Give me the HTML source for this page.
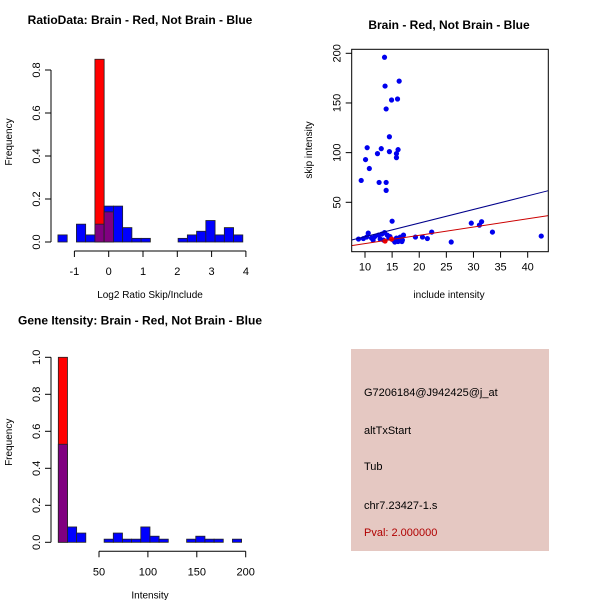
<!DOCTYPE html>
<html><head><meta charset="utf-8"><style>
body{margin:0;background:#fff}
svg{display:block;font-family:"Liberation Sans",sans-serif}
</style></head><body>
<svg id="c" width="600" height="600" viewBox="0 0 600 600">
<rect x="351" y="349" width="198" height="202" fill="#e5c8c2"/>
<g font-size="11" fill="#000">
<text x="364" y="396">G7206184@J942425@j_at</text>
<text x="364" y="434">altTxStart</text>
<text x="364" y="470">Tub</text>
<text x="364" y="509">chr7.23427-1.s</text>
<text x="364" y="536" fill="#b00000">Pval: 2.000000</text>
</g>
</svg>
<script>
// Panel 1: ratio histogram
const ratioStart = -1.48, ratioWidth = 0.2695;
const ratioBlue = [0.033,0,0.083,0.033,0.083,0.167,0.167,0.067,0.017,0.017,0,0,0,0.017,0.033,0.05,0.1,0.033,0.067,0.033];
const ratioRed  = [0,0,0,0,0.85,0.14,0,0,0,0,0,0,0,0,0,0,0,0,0,0];
const ratioXTicks = [-1,0,1,2,3,4];
const ratioYTicks = [0,0.2,0.4,0.6,0.8];
// Panel 3: intensity histogram
const intStart = 8.4, intWidth = 9.37;
const intBlue = [0.53,0.083,0.05,0,0,0.017,0.05,0.017,0.017,0.083,0.033,0.017,0,0,0.017,0.033,0.017,0.017,0,0.017];
const intRed  = [1.0,0,0,0,0,0,0,0,0,0,0,0,0,0,0,0,0,0,0,0];
const intXTicks = [50,100,150,200];
const intYTicks = [0,0.2,0.4,0.6,0.8,1.0];
// Panel 2: scatter
const scatX = [13.6,13.7,16.3,14.9,16.0,13.9,14.5,10.4,13.0,10.1,14.5,12.3,16.1,15.8,15.8,10.8,9.3,12.6,13.9,13.9,15.0,29.6,31.1,31.5,33.5,42.5,25.9,19.3,20.6,21.5,22.3,8.8,9.7,10.6,10.3,11.2,11.8,12.5,13.1,13.6,14.1,14.6,15.2,15.5,16.1,16.5,16.9,17.1,13.4,12.8,11.5,14.4,15.8,16.8];
const scatY = [196,167,172,153,154,144,116,105,104,93,101,99,103,99,95,84,72,70,70,62,31,29,27,30.5,20,16,10,15,15,13.5,20,13,13.5,19,15,14,15.5,17,18,19.5,17,15.5,12,10,10.5,15,12,17,12,13,12,14,14,10.5];
const redX = [13.7,14.9];
const redY = [11,13];
const blueLine = [1.67,1.37];
const redLine = [0.13,0.832];
const scatXTicks = [10,15,20,25,30,35,40];
const scatYTicks = [50,100,150,200];

const NS="http://www.w3.org/2000/svg", svg=document.getElementById('c');
function mk(t,a,p){const e=document.createElementNS(NS,t);for(const k in a)e.setAttribute(k,a[k]);(p||svg).appendChild(e);return e;}
function txt(x,y,s,a){const e=mk('text',Object.assign({x:x,y:y},a||{}));e.textContent=s;return e;}

function hist(o){
  const g=mk('g',{});
  
  
  const sx=v=>o.x0+(v-o.xv0)*o.xs, sy=v=>o.y0-v*o.ys;
  o.blue.forEach((b,i)=>{
    const r=o.red[i], a=sx(o.start+i*o.w), w=sx(o.start+(i+1)*o.w)-a;
    const hi=Math.max(b,r), lo=Math.min(b,r);
    if(hi>0){const e=mk('rect',{x:a,y:sy(hi),width:w,height:sy(0)-sy(hi),fill:r>b?'#ff0000':'#0000ff',stroke:'#222','stroke-width':0.8},g);
      
      }
    if(lo>0){const e=mk('rect',{x:a,y:sy(lo),width:w,height:sy(0)-sy(lo),fill:'#800080',stroke:'#222','stroke-width':0.8},g);
      
      }
  });
  const ya=mk('g',{stroke:'#000'},g);
  
  
  const yt=o.yt;
  mk('line',{x1:51,x2:51,y1:sy(yt[0]),y2:sy(yt[yt.length-1])},ya);
  yt.forEach(v=>{mk('line',{x1:45,x2:51,y1:sy(v),y2:sy(v)},ya);
    txt(40,sy(v),String(v===1?'1.0':v===0?'0.0':v),{transform:`rotate(-90 40 ${sy(v)})`,'text-anchor':'middle','font-size':11,stroke:'none'});});
  const xa=mk('g',{stroke:'#000'},g);
  
  
  const xt=o.xt, ay=o.y0+9;
  mk('line',{x1:sx(xt[0]),x2:sx(xt[xt.length-1]),y1:ay,y2:ay},xa);
  xt.forEach(v=>{mk('line',{x1:sx(v),x2:sx(v),y1:ay,y2:ay+6},xa);
    txt(sx(v),ay+24,String(v),{'text-anchor':'middle','font-size':11,stroke:'none'});});
  const t=txt(140,o.y0-218,o.title,{'text-anchor':'middle','font-size':12,'font-weight':'bold'});
  
  
  const xl=txt(o.xlx,ay+47,o.xlab,{'text-anchor':'middle','font-size':10});
  
  
  const yl=txt(12,o.y0-100,'Frequency',{'text-anchor':'middle','font-size':10,transform:`rotate(-90 12 ${o.y0-100})`});
  
  
}
hist({name:'ratio-histogram',start:ratioStart,w:ratioWidth,blue:ratioBlue,red:ratioRed,xt:ratioXTicks,yt:ratioYTicks,
  x0:108.7,xv0:0,xs:34.3,y0:242,ys:215,title:'RatioData: Brain - Red, Not Brain - Blue',xlab:'Log2 Ratio Skip/Include',xlx:150});
hist({name:'intensity-histogram',start:intStart,w:intWidth,blue:intBlue,red:intRed,xt:intXTicks,yt:intYTicks,
  x0:99,xv0:50,xs:0.978,y0:542.3,ys:185,title:'Gene Itensity: Brain - Red, Not Brain - Blue',xlab:'Intensity',xlx:150});

(function(){
  const L=351.7,R=548.3,T=49.3,B=251.7;
  const sx=v=>365+(v-10)*5.423, sy=v=>202.3-(v-50)*0.9933;
  const g=mk('g',{});
  
  
  const cp=mk('clipPath',{id:'cp'},g); mk('rect',{x:L,y:T,width:R-L,height:B-T},cp);
  const pts=mk('g',{'clip-path':'url(#cp)'},g);
  scatX.forEach((x,i)=>{const c=mk('circle',{cx:sx(x),cy:sy(scatY[i]),r:2.6,fill:'#0000ee'},pts);
    
    });
  redX.forEach((x,i)=>{const c=mk('circle',{cx:sx(x),cy:sy(redY[i]),r:2.6,fill:'#ee0000'},pts);
    
    });
  const xa0=7.55,xa1=43.8;
  const bl=mk('line',{x1:sx(xa0),y1:sy(blueLine[0]+blueLine[1]*xa0),x2:sx(xa1),y2:sy(blueLine[0]+blueLine[1]*xa1),stroke:'#00008b','stroke-width':1},pts);
  
  
  const rl=mk('line',{x1:sx(xa0),y1:sy(redLine[0]+redLine[1]*xa0),x2:sx(xa1),y2:sy(redLine[0]+redLine[1]*xa1),stroke:'#cc0000','stroke-width':1},pts);
  
  
  const box=mk('rect',{x:L,y:T,width:R-L,height:B-T,fill:'none',stroke:'#000'},g);
  
  
  scatXTicks.forEach(v=>{mk('line',{x1:sx(v),x2:sx(v),y1:B,y2:B+6,stroke:'#000'},g);
    txt(sx(v),B+19,String(v),{'text-anchor':'middle','font-size':11});});
  scatYTicks.forEach(v=>{mk('line',{x1:L-6,x2:L,y1:sy(v),y2:sy(v),stroke:'#000'},g);
    txt(L-11,sy(v),String(v),{'text-anchor':'middle','font-size':11,transform:`rotate(-90 ${L-11} ${sy(v)})`});});
  const t=txt(449,29,'Brain - Red, Not Brain - Blue',{'text-anchor':'middle','font-size':12,'font-weight':'bold'});
  
  
  const xl=txt(449,298,'include intensity',{'text-anchor':'middle','font-size':10});
  
  
  const yl=txt(312,150,'skip intensity',{'text-anchor':'middle','font-size':10,transform:'rotate(-90 312 150)'});
  
  
})();
</script>
</body></html>
